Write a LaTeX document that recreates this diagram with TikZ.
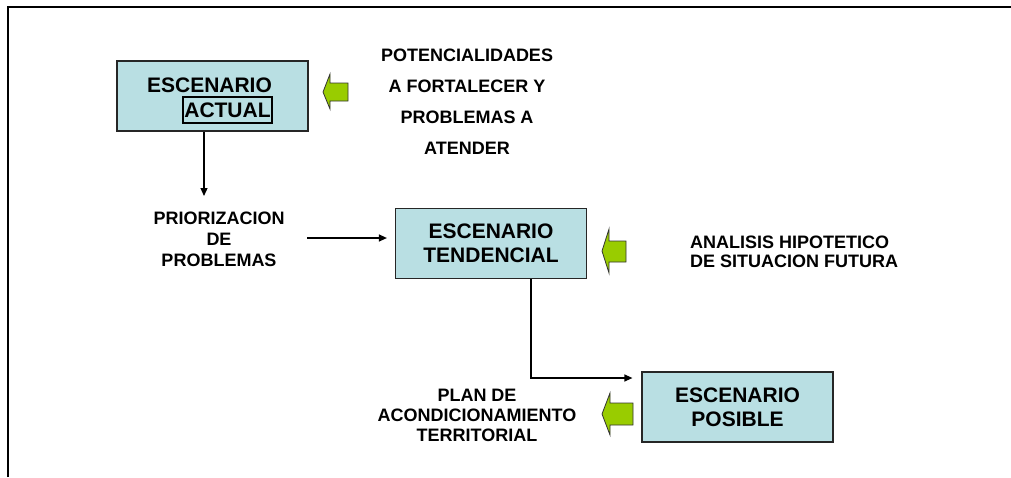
\documentclass[tikz,border=0pt]{standalone}
\usepackage{fontspec}
\setmainfont{Liberation Sans}
\usetikzlibrary{arrows.meta,calc}
\definecolor{boxblue}{RGB}{185,223,227}
\definecolor{arrgreen}{RGB}{153,204,0}
\tikzset{
  scenbox/.style={draw=black!85,line width=1.2pt,fill=boxblue,minimum width=191pt,minimum height=70pt,inner sep=0pt,align=center,font=\fontsize{21}{24}\selectfont\bfseries},
  lbl/.style={inner sep=0pt,align=center,font=\fontsize{18}{20}\selectfont\bfseries},
  conn/.style={line width=1.2pt,-{Triangle[length=8pt,width=7pt]}},
  garrow/.style={fill=arrgreen,draw=black!80,line width=0.8pt},
}
\begin{document}
\begin{tikzpicture}[x=1pt,y=-1pt]
\useasboundingbox (0,0) rectangle (1011,477);
\draw[line width=2pt] (8,477) -- (8,7) -- (1011,7);

% boxes
\node[scenbox] (box1) at (212.5,96) {};
\node[inner sep=0pt,font=\fontsize{21}{24}\selectfont\bfseries] (esc1) at (209.5,85) {ESCENARIO};
\node[draw=black,line width=1.2pt,inner sep=0pt,minimum width=89pt,minimum height=26pt,font=\fontsize{21}{24}\selectfont\bfseries] (act1) at (227.5,110) {ACTUAL};
\node[scenbox] (box2) at (491,243.5) {ESCENARIO\\TENDENCIAL};
\node[scenbox] (box3) at (737.5,407) {ESCENARIO\\POSIBLE};

% labels
\node[lbl,font=\fontsize{18}{31}\selectfont\bfseries] (pot) at (467,102) {POTENCIALIDADES\\A FORTALECER Y\\PROBLEMAS A\\ATENDER};
\node[lbl,font=\fontsize{18}{21}\selectfont\bfseries] (prio) at (219,239) {PRIORIZACION\\DE\\PROBLEMAS};
\node[lbl,align=left,anchor=west,font=\fontsize{18}{19.5}\selectfont\bfseries] (anal) at (690,252) {ANALISIS HIPOTETICO\\DE SITUACION FUTURA};
\node[lbl,font=\fontsize{18}{20}\selectfont\bfseries] (plan) at (477,415) {PLAN DE\\ACONDICIONAMIENTO\\TERRITORIAL};

% green block arrows
\draw[garrow] (323,92) -- (330,74) -- (330,83) -- (348,83) -- (348,101) -- (330,101) -- (330,109) -- cycle;
\draw[garrow] (602,251) -- (609,229) -- (609,241) -- (626,241) -- (626,262) -- (609,262) -- (609,273) -- cycle;
\draw[garrow] (602,414) -- (610,393) -- (610,403) -- (633,403) -- (633,425) -- (610,425) -- (610,435) -- cycle;

% connectors
\coordinate (a1end) at (204,196);
\draw[conn] (box1.south -| a1end) -- (a1end);
\coordinate (h1s) at (307,238);
\draw[conn,shorten >=8pt] (h1s) -- (h1s -| box2.west);
\coordinate (c2) at (531,378);
\draw[conn,shorten >=9pt] (box2.south -| c2) -- (c2) -- (c2 -| box3.west);
\end{tikzpicture}
\end{document}
